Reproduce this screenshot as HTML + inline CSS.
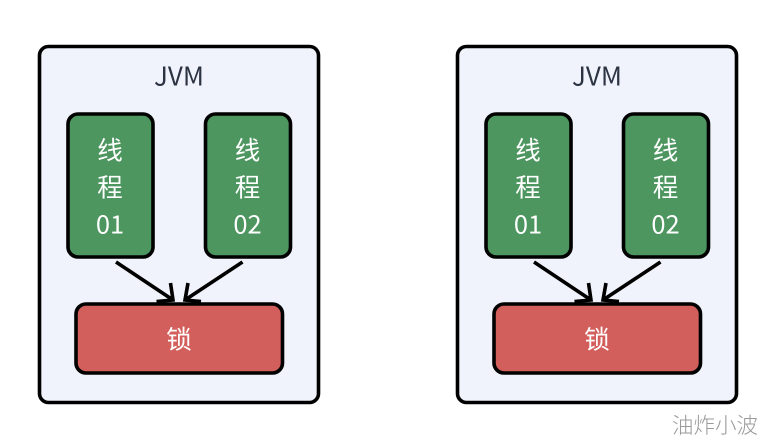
<!DOCTYPE html>
<html>
<head>
<meta charset="utf-8">
<style>
html,body{margin:0;padding:0;background:#fff;width:767px;height:445px;overflow:hidden}
svg{display:block}
text{font-family:"Noto Sans CJK SC","Liberation Sans",sans-serif;font-weight:400;text-anchor:middle}
.w{fill:#fff;font-size:25.500px}
.d{fill:#2c3343;font-size:26px}
.box{stroke:#000;stroke-width:3.600}
.arr{fill:none;stroke:#000;stroke-width:3.600}
</style>
</head>
<body>
<svg width="767" height="445" viewBox="0 0 767 445" xmlns="http://www.w3.org/2000/svg">
<g id="a">
<rect class="box" x="39.500" y="46.500" width="279" height="356" rx="9" fill="#f0f3fb"/>
<text class="d" x="179" y="85.500">JVM</text>
<rect class="box" x="68" y="114" width="85" height="143" rx="10" fill="#4e9660"/>
<rect class="box" x="205.500" y="114" width="85" height="143" rx="10" fill="#4e9660"/>
<text class="w" x="110" y="159.500">线</text>
<text class="w" x="110" y="196.500">程</text>
<text class="w" x="110" y="233.500">01</text>
<text class="w" x="247.500" y="159.500">线</text>
<text class="w" x="247.500" y="196.500">程</text>
<text class="w" x="247.500" y="233.500">02</text>
<path class="arr" d="M116 262L173 300M170.500 283L173 300L156.500 301.500"/>
<path class="arr" d="M242.500 262L185 300M188 283L185 300L201 301.500"/>
<rect class="box" x="76" y="304" width="206.500" height="69" rx="10" fill="#d25f5b"/>
<text class="w" x="179" y="348.500">锁</text>
</g>
<g transform="translate(418,0)">
<rect class="box" x="39.500" y="46.500" width="279" height="356" rx="9" fill="#f0f3fb"/>
<text class="d" x="179" y="85.500">JVM</text>
<rect class="box" x="68" y="114" width="85" height="143" rx="10" fill="#4e9660"/>
<rect class="box" x="205.500" y="114" width="85" height="143" rx="10" fill="#4e9660"/>
<text class="w" x="110" y="159.500">线</text>
<text class="w" x="110" y="196.500">程</text>
<text class="w" x="110" y="233.500">01</text>
<text class="w" x="247.500" y="159.500">线</text>
<text class="w" x="247.500" y="196.500">程</text>
<text class="w" x="247.500" y="233.500">02</text>
<path class="arr" d="M116 262L173 300M170.500 283L173 300L156.500 301.500"/>
<path class="arr" d="M242.500 262L185 300M188 283L185 300L201 301.500"/>
<rect class="box" x="76" y="304" width="206.500" height="69" rx="10" fill="#d25f5b"/>
<text class="w" x="179" y="348.500">锁</text>
</g>
<text x="715" y="433" style="font-size:21.500px;fill:#9a9a9a;font-weight:300">油炸小波</text>
</svg>
</body>
</html>
